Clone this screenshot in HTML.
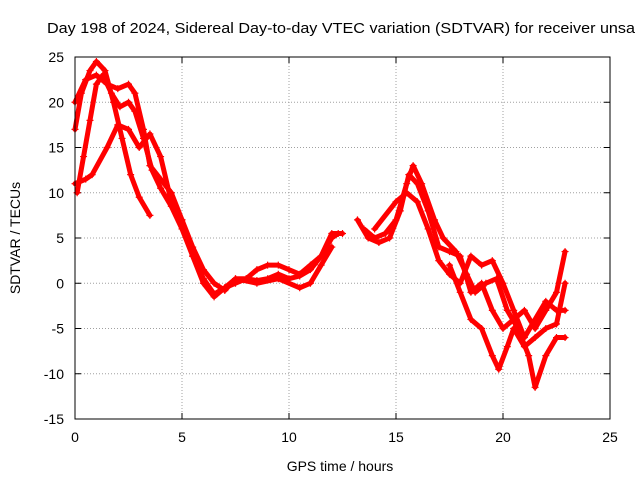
<!DOCTYPE html>
<html><head><meta charset="utf-8"><style>
html,body{margin:0;padding:0;background:#fff;}
svg{display:block;font-family:"Liberation Sans",sans-serif;}
</style></head><body>
<svg id="chart" width="640" height="480" viewBox="0 0 640 480">
<text x="47" y="33" font-size="15" textLength="588" lengthAdjust="spacingAndGlyphs" fill="#000">Day 198 of 2024, Sidereal Day-to-day VTEC variation (SDTVAR) for receiver unsa</text>
<g id="grid"></g>
<g id="ticks"></g>
<g id="series"></g>
<rect x="75" y="57" width="535" height="362" fill="none" stroke="#000" stroke-width="1"/>
<text x="340" y="471" font-size="14" text-anchor="middle">GPS time / hours</text>
<text x="20" y="238" font-size="14" text-anchor="middle" transform="rotate(-90 20 238)">SDTVAR / TECUs</text>
</svg>
<script>
const xTicks=[0,5,10,15,20,25];
const yTicks=[-15,-10,-5,0,5,10,15,20,25];
const trackA=[[0,17],[0.3,21],[0.7,23.5],[1.0,24.5],[1.4,23.5],[1.8,20],[2.2,16],[2.6,12],[3.0,9.5],[3.5,7.5]];
const trackB=[[0.1,10],[0.4,14],[0.7,18],[1.0,22],[1.3,23],[1.7,21],[2.1,19.5],[2.5,20],[2.8,19],[3.2,16],[3.6,12.5],[4.0,10.5],[4.5,8.5],[5.0,6],[5.5,3],[6.0,0.5],[6.5,-1.2],[7.0,-0.5],[7.5,0],[8,0.5],[8.5,0.3],[9,0.5],[9.5,1],[10,0.5],[10.5,0.8],[11,1.5],[11.5,3],[12,5],[12.3,5.5]];
const trackC=[[0,20],[0.5,22.5],[1.0,23],[1.5,22],[2,21.5],[2.5,22],[2.8,21],[3.2,17],[3.5,13],[4,11.5],[4.5,10],[5,7],[5.5,4],[6,1.5],[6.5,0],[7,-0.8],[7.5,0.5],[8,0.5],[8.5,1.5],[9,2],[9.5,2],[10,1.5],[10.5,1],[11,2],[11.5,3],[12,5.5],[12.5,5.5]];
const trackD=[[0,11],[0.5,11.5],[0.8,12],[1.5,15],[2,17.5],[2.5,17],[3,15],[3.5,16.5],[4,14],[4.5,9],[5,7],[5.5,3],[6,0],[6.5,-1.5],[7,-0.5],[7.5,0.5],[8.5,0],[9.5,0.5],[10.5,-0.5],[11,0],[11.5,2],[12,4]];
const trackE=[[13.2,7],[13.7,5],[14.2,4.5],[14.7,5],[15.2,8],[15.6,12],[16,11],[16.5,8],[17,4],[17.5,3.5],[18,3],[18.5,-1],[19,0],[19.5,-3],[20,-5],[20.5,-4],[21,-3],[21.5,-5],[22,-3],[22.5,-1],[22.9,3.5]];
const trackF=[[13.5,6],[14,5],[14.5,5.5],[15,7],[15.5,11],[15.8,13],[16.2,11],[16.8,7],[17.2,5],[17.8,3.5],[18.3,1],[18.7,-1],[19.2,0],[19.7,0.5],[20.2,-3],[20.7,-5],[21.2,-8],[21.5,-11.5],[22,-8],[22.5,-6],[22.9,-6]];
const trackG=[[14,6],[15,9],[15.5,10],[16,9],[16.5,6],[17,2.5],[17.5,1],[18,0],[18.5,3],[19,2],[19.5,2.5],[20,0],[20.5,-3],[21,-6],[21.5,-4],[22,-2],[22.5,-3],[22.9,-3]];
const trackH=[[17.5,2],[18,-1],[18.5,-4],[19,-5],[19.5,-8],[19.8,-9.5],[20.2,-7],[20.5,-5],[21,-7],[21.5,-6],[22,-5],[22.5,-4.5],[22.9,0]];
const tracks=[trackA,trackB,trackC,trackD,trackE,trackF,trackG,trackH];

const NS='http://www.w3.org/2000/svg';
const X0=75,X1=610,Y0=419,Y1=57;
function xs(v){return X0+(v-0)/(25-0)*(X1-X0);}
function ys(v){return Y0-(v+15)/(40)*(Y0-Y1);}
function mk(tag,attrs,parent){const e=document.createElementNS(NS,tag);for(const k in attrs)e.setAttribute(k,attrs[k]);parent.appendChild(e);return e;}
const grid=document.getElementById('grid'),ticks=document.getElementById('ticks'),ser=document.getElementById('series');
xTicks.forEach(t=>{
  const x=xs(t);
  if(t>0&&t<25){const l=mk('line',{x1:x,y1:Y1,x2:x,y2:Y0,stroke:'#a0a0a0','stroke-dasharray':'1,2'},grid);
  
  }
  mk('line',{x1:x,y1:Y0,x2:x,y2:Y0-6,stroke:'#000'},ticks);
  mk('line',{x1:x,y1:Y1,x2:x,y2:Y1+6,stroke:'#000'},ticks);
  const tx=mk('text',{x:x,y:Y0+23,'font-size':14,'text-anchor':'middle'},ticks);tx.textContent=t;
  
  
});
yTicks.forEach(t=>{
  const y=ys(t);
  if(t>-15&&t<25){const l=mk('line',{x1:X0,y1:y,x2:X1,y2:y,stroke:'#a0a0a0','stroke-dasharray':'1,2'},grid);
  
  }
  mk('line',{x1:X0,y1:y,x2:X0+6,y2:y,stroke:'#000'},ticks);
  mk('line',{x1:X1,y1:y,x2:X1-6,y2:y,stroke:'#000'},ticks);
  const tx=mk('text',{x:X0-11,y:y+5,'font-size':14,'text-anchor':'end'},ticks);tx.textContent=t;
  
  
});
tracks.forEach((tr,i)=>{
  const g=mk('g',{},ser);
  
  
  mk('polyline',{points:tr.map(p=>xs(p[0])+','+ys(p[1])).join(' '),fill:'none',stroke:'#f00','stroke-width':5,'stroke-linejoin':'round','stroke-linecap':'round'},g);
  tr.forEach(p=>{
    const x=xs(p[0]),y=ys(p[1]);
    mk('path',{d:`M${x-3.5},${y}h7M${x},${y-3.5}v7`,stroke:'#f00','stroke-width':1.2},g);
  });
});
</script>
</body></html>
